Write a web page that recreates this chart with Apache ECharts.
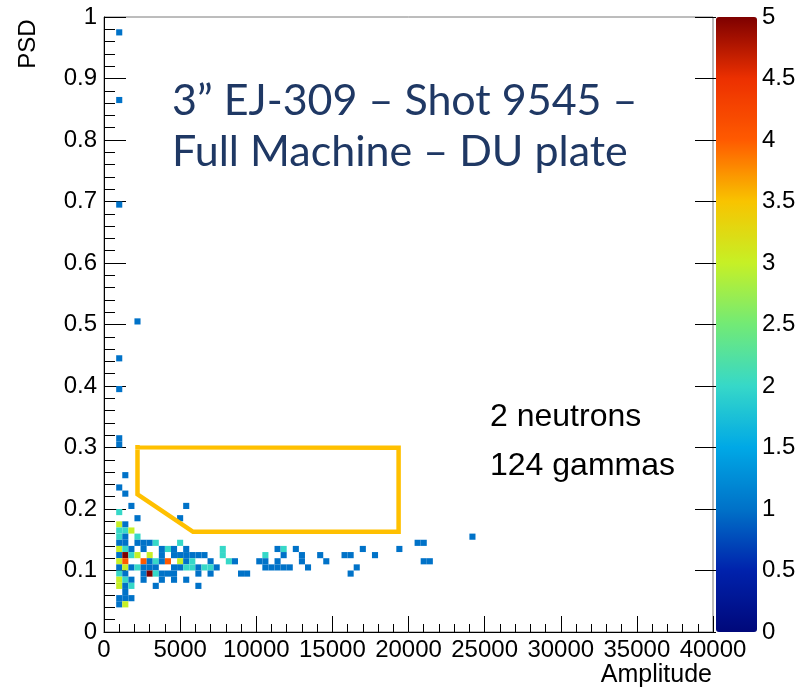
<!DOCTYPE html>
<html><head><meta charset="utf-8">
<script src="https://cdn.jsdelivr.net/npm/echarts@6/dist/echarts.min.js"></script>
<style>html,body{margin:0;padding:0;background:#fff}#c{width:798px;height:688px}</style>
</head><body><div id="c"></div>
<script>
// ---- binning of the 2D histogram ----
const ampBinWidth = 400;    // Amplitude per bin (100 bins over 0..40000)
const psdBinWidth = 0.01;   // PSD per bin (100 bins over 0..1)

// PSD bin index of each populated row
const psdBins = [97, 86, 69, 50, 44, 39, 31, 30, 25, 23, 22, 20, 19, 18,
                 17, 16, 15, 14, 13, 12, 11, 10, 9, 8, 7, 6, 5, 4];
// Amplitude bin indices populated in each row
const ampBinsByRow = [
  [2], [2], [2], [5], [2], [2], [2], [2], [3], [2], [3], [4, 13], [2], [5, 12],
  [2, 3],
  [2, 3, 4],
  [2, 3, 5, 60],
  [2, 3, 5, 6, 7, 8, 12, 51, 52],
  [2, 3, 4, 6, 9, 10, 11, 13, 19, 28, 29, 31, 42, 48],
  [2, 3, 4, 5, 7, 9, 11, 12, 13, 14, 15, 16, 19, 26, 29, 32, 35, 39, 40, 44],
  [2, 3, 6, 7, 8, 9, 10, 12, 13, 14, 17, 20, 21, 25, 26, 28, 32, 36, 52, 53],
  [2, 3, 4, 5, 6, 7, 8, 11, 12, 13, 14, 15, 16, 17, 18, 26, 27, 28, 29, 30, 33, 41],
  [2, 3, 6, 7, 8, 9, 10, 11, 15, 17, 22, 23, 40],
  [2, 3, 4, 6, 9, 11, 13],
  [2, 3, 4, 8, 15],
  [3],
  [2, 3, 4],
  [2, 3]
];
// Counts of those bins
const countsByRow = [
  [1], [1], [1], [1], [1], [1], [1], [1], [1], [1], [1], [1, 1], [2], [1, 1],
  [3, 1],
  [2, 2, 3],
  [2, 1, 2, 1],
  [1, 1, 1, 1, 1, 2, 2, 1, 1],
  [3, 2, 1, 1, 1, 2, 1, 1, 2, 1, 2, 1, 1, 1],
  [1, 5, 2, 3, 3, 1, 1, 1, 1, 1, 1, 1, 2, 2, 1, 1, 1, 1, 1, 1],
  [3, 4, 4, 1, 2, 1, 4, 3, 1, 2, 1, 2, 1, 1, 1, 1, 1, 1, 1, 1],
  [1, 3, 1, 2, 1, 1, 1, 1, 1, 2, 2, 1, 2, 2, 1, 1, 1, 1, 1, 1, 1, 1],
  [2, 1, 1, 5, 2, 1, 1, 1, 1, 1, 1, 1, 1],
  [3, 2, 1, 1, 1, 1, 1],
  [3, 1, 2, 1, 1],
  [1],
  [1, 1, 1],
  [1, 3]
];

// Neutron cut polygon (Amplitude, PSD)
const cutAmp = [2200, 19350, 19350, 5850, 2200, 2200];
const cutPsd = [0.3005, 0.2995, 0.163, 0.163, 0.224, 0.3005];

// Colour palette (value 0 .. 5, every 0.5)
const paletteStops = ['#00087a', '#0022ac', '#0072c8', '#00a8e6', '#36d8c8', '#72ea76',
                      '#c6f026', '#f8c400', '#ff5a00', '#ec3000', '#7e0000'];

const titleLines = ['3\u201D EJ-309 \u2013 Shot 9545 \u2013', 'Full Machine \u2013 DU plate'];
const noteLines = ['2 neutrons', '124 gammas'];

// ---- build table ----
const cells = [];
psdBins.forEach((j, r) => {
  ampBinsByRow[r].forEach((i, k) => {
    cells.push([i * ampBinWidth, +(j * psdBinWidth).toFixed(2), countsByRow[r][k]]);
  });
});

const FONT = '"Liberation Sans", Arial, Helvetica, sans-serif';
const plain = v => String(+v.toFixed(6));
const chart = echarts.init(document.getElementById('c'), null, {renderer: 'canvas'});

const option = {
  animation: false,
  backgroundColor: '#fff',
  grid: [
    {left: 104, top: 17, width: 609, height: 615, show: true, borderColor: '#7a7a7a', borderWidth: 1,
     backgroundColor: 'rgba(0,0,0,0)', containLabel: false, outerBoundsMode: 'none'},
    {left: 716, top: 17, width: 41, height: 615, containLabel: false, outerBoundsMode: 'none'}
  ],
  xAxis: [
    {type: 'value', gridIndex: 0, min: 0, max: 40000, interval: 5000,
     axisLine: {show: true, onZero: false, lineStyle: {color: '#000', width: 1}},
     axisTick: {show: true, inside: true, length: 16, lineStyle: {color: '#000', width: 1}},
     minorTick: {show: true, splitNumber: 5, length: 8, lineStyle: {color: '#000', width: 1}},
     splitLine: {show: false}, minorSplitLine: {show: false},
     axisLabel: {fontFamily: FONT, fontSize: 24, color: '#000', margin: 6, formatter: plain}},
    {type: 'value', gridIndex: 1, min: 0, max: 1, show: false}
  ],
  yAxis: [
    {type: 'value', gridIndex: 0, min: 0, max: 1, interval: 0.1,
     axisLine: {show: true, onZero: false, lineStyle: {color: '#000', width: 1}},
     axisTick: {show: true, inside: true, length: 22, lineStyle: {color: '#000', width: 1}},
     minorTick: {show: true, splitNumber: 5, length: 11, lineStyle: {color: '#000', width: 1}},
     splitLine: {show: false}, minorSplitLine: {show: false},
     axisLabel: {fontFamily: FONT, fontSize: 24, color: '#000', margin: 7, formatter: plain}},
    {type: 'value', gridIndex: 1, min: 0, max: 5, interval: 0.5, position: 'right',
     axisLine: {show: false},
     axisTick: {show: true, inside: true, length: 21, lineStyle: {color: '#000', width: 1}},
     splitLine: {show: false},
     axisLabel: {fontFamily: FONT, fontSize: 24, color: '#000', margin: 5, formatter: plain}}
  ],
  visualMap: {
    type: 'continuous', min: 0, max: 5, dimension: 2, seriesIndex: 0,
    inRange: {color: paletteStops}, calculable: false, realtime: false,
    orient: 'vertical', left: 716, top: 17, itemWidth: 41, itemHeight: 615,
    padding: 0, text: null, showLabel: false, hoverLink: false, z: 1
  },
  series: [
    {
      type: 'custom', xAxisIndex: 0, yAxisIndex: 0, data: cells,
      encode: {x: 0, y: 1},
      renderItem: function (params, api) {
        const x = api.value(0), y = api.value(1);
        const p0 = api.coord([x, y + psdBinWidth]);
        const p1 = api.coord([x + ampBinWidth, y]);
        return {type: 'rect',
          shape: {x: p0[0], y: p0[1], width: p1[0] - p0[0], height: p1[1] - p0[1]},
          style: {fill: api.visual('color')}};
      },
      silent: true, z: 2
    },
    {
      type: 'line', xAxisIndex: 0, yAxisIndex: 0,
      data: cutAmp.map((a, k) => [a, cutPsd[k]]),
      symbol: 'none', smooth: false, clip: false, silent: true,
      lineStyle: {color: '#FFC000', width: 4.5, join: 'miter', cap: 'square'}, z: 5
    }
  ],
  graphic: [
    {type: 'text', x: 172, y: 101, style: {text: titleLines[0], font: '43px Lato, "Open Sans", sans-serif', fill: '#1f3864', verticalAlign: 'middle', align: 'left'}},
    {type: 'text', x: 172, y: 152, style: {text: titleLines[1], font: '43px Lato, "Open Sans", sans-serif', fill: '#1f3864', verticalAlign: 'middle', align: 'left'}},
    {type: 'text', x: 490, y: 417, style: {text: noteLines[0], font: '32px ' + FONT, fill: '#000', verticalAlign: 'middle', align: 'left'}},
    {type: 'text', x: 490, y: 466, style: {text: noteLines[1], font: '32px ' + FONT, fill: '#000', verticalAlign: 'middle', align: 'left'}},
    {type: 'text', x: 28, y: 44, rotation: Math.PI / 2, style: {text: 'PSD', font: '24px ' + FONT, fill: '#000', verticalAlign: 'middle', align: 'center'}},
    {type: 'text', x: 712, y: 675, style: {text: 'Amplitude', font: '25px ' + FONT, fill: '#000', verticalAlign: 'middle', align: 'right'}}
  ]
};
chart.setOption(option);
</script>
</body></html>
